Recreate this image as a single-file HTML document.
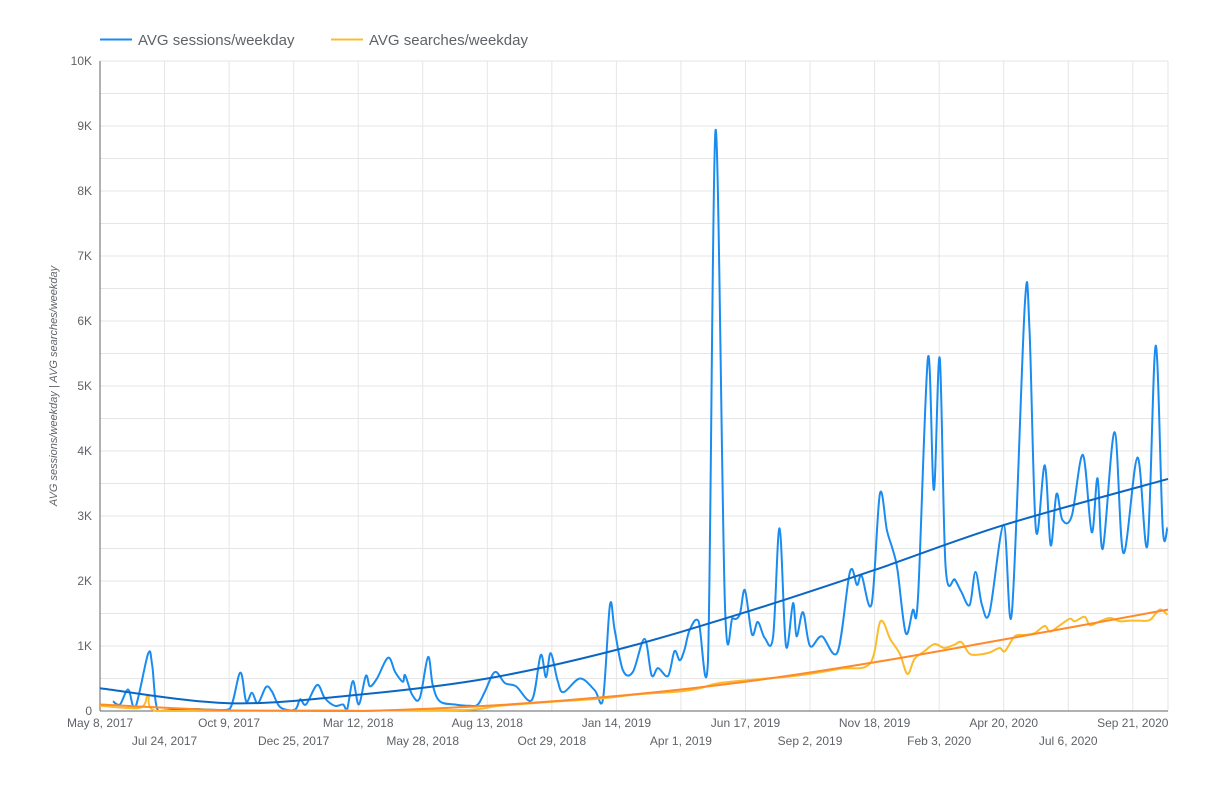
<!DOCTYPE html>
<html><head><meta charset="utf-8">
<style>
body{margin:0;background:#fff;}
svg{display:block;font-family:"Liberation Sans",Arial,sans-serif;}
</style></head>
<body>
<svg id="chart" width="1228" height="795" viewBox="0 0 1228 795" xmlns="http://www.w3.org/2000/svg">
  <g>
    <g>
      <line x1="100" y1="39.5" x2="132" y2="39.5" stroke="#1a8cf0" stroke-width="2"/>
      <text x="138" y="45" font-size="15" fill="#5f6368">AVG sessions/weekday</text>
    </g>
    <g>
      <line x1="331" y1="39.5" x2="363" y2="39.5" stroke="#fbbc2c" stroke-width="2"/>
      <text x="369" y="45" font-size="15" fill="#5f6368">AVG searches/weekday</text>
    </g>
  </g>
  <text transform="translate(57,386) rotate(-90)" text-anchor="middle" font-size="11" font-style="italic" fill="#5f6368">AVG sessions/weekday | AVG searches/weekday</text>
  <g id="grid"></g>
  <g id="yticks"></g>
  <g id="xticks"></g>
  <g id="series"></g>
</svg>
<script>
const xTickLabels = ["May 8, 2017","Jul 24, 2017","Oct 9, 2017","Dec 25, 2017","Mar 12, 2018","May 28, 2018","Aug 13, 2018","Oct 29, 2018","Jan 14, 2019","Apr 1, 2019","Jun 17, 2019","Sep 2, 2019","Nov 18, 2019","Feb 3, 2020","Apr 20, 2020","Jul 6, 2020","Sep 21, 2020"];
const xTickWeeks = [0,11,22,33,44,55,66,77,88,99,110,121,132,143,154,165,176];
const yTickValues = [0,1000,2000,3000,4000,5000,6000,7000,8000,9000,10000];
const yTickLabels = ["0","1K","2K","3K","4K","5K","6K","7K","8K","9K","10K"];
const sessionWeeks = [2.2,3.4,4.8,6,8.2,8.9,9.9,13,16.2,19,22.1,23.9,24.9,25.9,26.9,28.3,29.3,30.7,33.2,34.1,35.1,37,38.3,40,41.4,42.1,43.1,44.1,45.3,46,47.2,49.1,50.3,51.6,52,53.2,54.5,55.9,56.7,57.9,60.5,63,64.4,65.6,67.3,69,70.9,73.6,75.1,76,76.8,78,79,81.8,84.3,85.7,86.9,87.7,89.1,90.8,92.8,94,95.1,96.8,97.9,98.8,99.6,100.5,102,103.6,104.9,106.5,107.8,109,109.9,111.1,112.1,113.3,114.7,115.8,116.9,118.1,118.7,119.8,121,123,125.7,127.8,129,129.8,131.5,132.9,134.1,135.1,135.9,137.3,138.5,139.4,141.1,142.1,143.1,144.1,145.7,146.8,148.2,149.2,150.3,151.6,154,155.4,157.6,158.4,159.5,161,162,163,164,165.6,167.5,169,170,170.9,172.9,174.4,176.8,178.5,179.9,181.1,181.9];
const sessionValues = [150,100,330,50,880,700,0,20,30,20,30,590,150,280,120,370,300,60,20,180,100,400,200,80,100,20,460,100,540,380,500,820,600,450,550,250,200,830,400,150,100,80,100,300,600,430,380,170,860,520,890,460,290,500,320,170,1630,1250,630,600,1110,550,660,540,920,780,940,1250,1380,750,8940,1630,1430,1480,1860,1180,1370,1120,1140,2810,1000,1660,1150,1520,1000,1150,910,2140,1940,2080,1650,3340,2780,2480,2170,1200,1550,1750,5440,3400,5430,2220,2020,1830,1630,2140,1630,1520,2860,1520,6250,5860,2780,3780,2550,3340,2940,3000,3940,2750,3580,2500,4290,2430,3900,2550,5620,2820,2820];
const searchWeeks = [0,6.8,8.2,9.5,20,40,45,50,63,68.1,78.3,85.2,92,98.8,102.2,105.6,112.4,119.3,126.1,131.2,133,134.7,136.3,137.6,138.8,140.5,142.2,143.9,145.6,146.8,148.2,149.9,151.6,153.3,154.2,155.9,157.6,159.3,161,161.9,163.6,165.3,166.1,167.8,168.7,170.4,172.1,173.8,175.5,177.2,178.9,180.6,181.9];
const searchValues = [80,50,250,0,0,10,0,10,20,80,150,190,260,300,350,430,490,550,650,730,1380,1100,880,570,800,920,1030,970,1020,1060,880,870,900,970,920,1150,1170,1200,1310,1220,1320,1420,1380,1450,1320,1380,1430,1380,1390,1390,1400,1560,1480];
const trendWeeks = [0,22,44,66,88,110,132,154,182];
const sessionTrend = [350,120,250,500,940,1520,2170,2860,3570];
const searchTrend = [100,10,0,80,230,450,750,1100,1560];

const X0=100,X1=1168,Y0=711,Y1=61,WMAX=182;
const xs=w=>X0+(w/WMAX)*(X1-X0);
const ys=v=>Y0-(v/10000)*(Y0-Y1);
const NS="http://www.w3.org/2000/svg";
function mk(tag,attrs,parent){const e=document.createElementNS(NS,tag);for(const k in attrs)e.setAttribute(k,attrs[k]);parent.appendChild(e);return e;}
const grid=document.getElementById('grid'),yt=document.getElementById('yticks'),xt=document.getElementById('xticks'),ser=document.getElementById('series');
for(let v=500;v<=10000;v+=500){const l=mk('line',{x1:X0,x2:X1,y1:ys(v),y2:ys(v),stroke:'#e6e6e6','stroke-width':1},grid);

}
xTickWeeks.forEach(w=>{if(w===0)return;const l=mk('line',{x1:xs(w),x2:xs(w),y1:Y1,y2:Y0,stroke:'#e6e6e6','stroke-width':1},grid);

});
const r=mk('line',{x1:X1,x2:X1,y1:Y1,y2:Y0,stroke:'#e6e6e6'},grid);


yTickValues.forEach((v,i)=>{const t=mk('text',{x:92,y:ys(v)+4,'text-anchor':'end','font-size':12,fill:'#5f6368'},yt);t.textContent=yTickLabels[i];

});
xTickWeeks.forEach((w,i)=>{const t=mk('text',{x:xs(w),y:i%2?745:727,'text-anchor':'middle','font-size':12,fill:'#5f6368'},xt);t.textContent=xTickLabels[i];

});
const ax=mk('line',{x1:X0,x2:X1,y1:Y0,y2:Y0,stroke:'#5f6368','stroke-width':1},xt);


const ay=mk('line',{x1:X0,x2:X0,y1:Y1,y2:Y0,stroke:'#5f6368','stroke-width':1},yt);



function smooth(pts){let d=`M${pts[0][0]},${pts[0][1]}`;for(let i=0;i<pts.length-1;i++){const p0=pts[i-1]||pts[i],p1=pts[i],p2=pts[i+1],p3=pts[i+2]||p2;const t=6;
let c1y=p1[1]+(p2[1]-p0[1])/t,c2y=p2[1]-(p3[1]-p1[1])/t;
c1y=Math.min(Math.max(c1y,Y1),Y0);c2y=Math.min(Math.max(c2y,Y1),Y0);
d+=` C${p1[0]+(p2[0]-p0[0])/t},${c1y} ${p2[0]-(p3[0]-p1[0])/t},${c2y} ${p2[0]},${p2[1]}`;}return d;}

const sp=mk('path',{d:smooth(sessionWeeks.map((w,i)=>[xs(w),ys(sessionValues[i])])),fill:'none',stroke:'#1a8cf0','stroke-width':2,'stroke-linejoin':'round'},ser);


const qp=mk('path',{d:smooth(searchWeeks.map((w,i)=>[xs(w),ys(searchValues[i])])),fill:'none',stroke:'#fbbc2c','stroke-width':2,'stroke-linejoin':'round'},ser);


const st=mk('path',{d:smooth(trendWeeks.map((w,i)=>[xs(w),ys(sessionTrend[i])])),fill:'none',stroke:'#0b66c3','stroke-width':2},ser);


const qt=mk('path',{d:smooth(trendWeeks.map((w,i)=>[xs(w),ys(searchTrend[i])])),fill:'none',stroke:'#ff8a2a','stroke-width':2},ser);


</script>
</body></html>
